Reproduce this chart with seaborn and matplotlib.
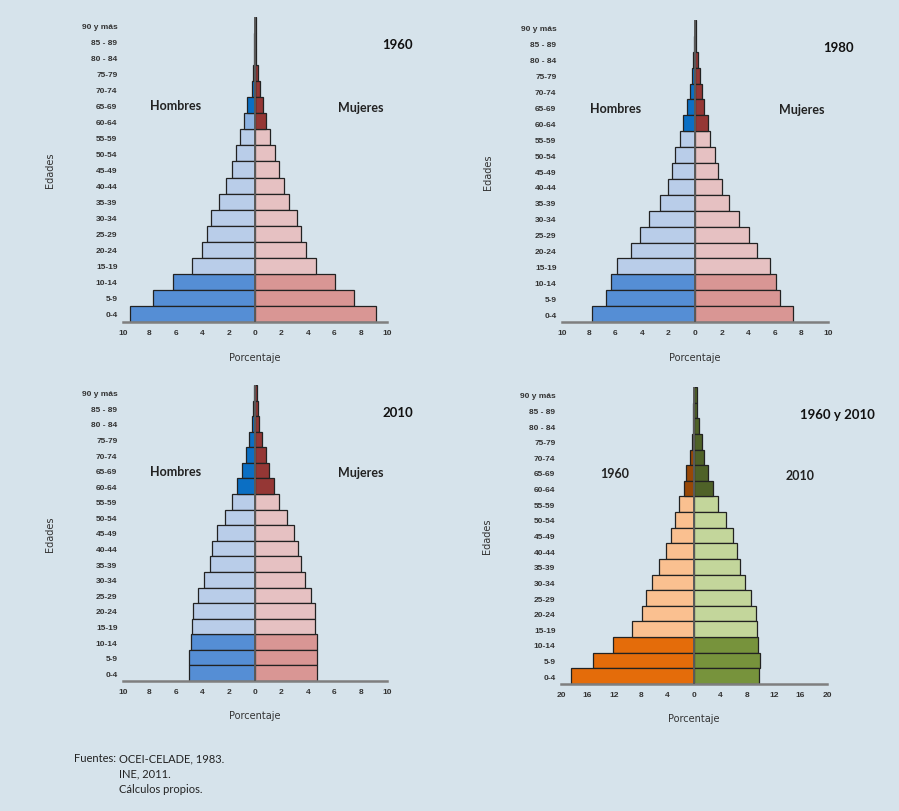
import pandas as pd
import matplotlib.pyplot as plt
import seaborn as sns

# Grupos de edad, de abajo hacia arriba
edades = ['0-4', '5-9', '10-14', '15-19', '20-24', '25-29', '30-34', '35-39',
          '40-44', '45-49', '50-54', '55-59', '60-64', '65-69', '70-74',
          '75-79', '80 - 84', '85 - 89', '90 y más']

# Porcentajes
hombres_1960 = [9.44, 7.72, 6.20, 4.78, 4.05, 3.67, 3.34, 2.73, 2.18, 1.77,
                1.47, 1.16, 0.81, 0.61, 0.25, 0.15, 0.08, 0.04, 0.03]
mujeres_1960 = [9.14, 7.49, 6.05, 4.61, 3.85, 3.52, 3.16, 2.61, 2.20, 1.80,
                1.52, 1.16, 0.84, 0.63, 0.35, 0.23, 0.10, 0.06, 0.04]
hombres_1980 = [7.75, 6.67, 6.30, 5.85, 4.82, 4.14, 3.46, 2.66, 2.01, 1.76,
                1.48, 1.15, 0.88, 0.60, 0.40, 0.20, 0.12, 0.05, 0.03]
mujeres_1980 = [7.40, 6.40, 6.12, 5.65, 4.69, 4.07, 3.34, 2.58, 2.06, 1.76,
                1.53, 1.15, 0.95, 0.70, 0.55, 0.35, 0.20, 0.08, 0.05]
hombres_2010 = [4.99, 4.99, 4.86, 4.76, 4.66, 4.30, 3.85, 3.39, 3.22, 2.86,
                2.30, 1.77, 1.34, 1.01, 0.66, 0.46, 0.25, 0.15, 0.10]
mujeres_2010 = [4.73, 4.73, 4.66, 4.53, 4.53, 4.25, 3.77, 3.47, 3.29, 2.94,
                2.41, 1.85, 1.42, 1.09, 0.81, 0.53, 0.33, 0.20, 0.13]
total_1960 = [18.49, 15.18, 12.21, 9.35, 7.89, 7.19, 6.38, 5.23, 4.27, 3.52,
              2.91, 2.26, 1.56, 1.16, 0.65, 0.25, 0.15, 0.08, 0.06]
total_2010 = [9.75, 9.85, 9.55, 9.40, 9.25, 8.60, 7.64, 6.98, 6.53, 5.93,
              4.77, 3.67, 2.86, 2.11, 1.56, 1.16, 0.70, 0.50, 0.45]

fuentes = ['OCEI-CELADE, 1983.', 'INE, 2011.', 'Cálculos propios.']

fondo = '#d6e3eb'
paletas = {
    'azul': ['#558ed5', '#b9cde9', '#0b6fc4', '#8db3e2'],
    'rojo': ['#d99694', '#e6c1c2', '#953735'],
    'naranja': ['#e46c0a', '#fac090', '#984807'],
    'verde': ['#77933c', '#c3d69b', '#4f6228'],
}
narrow = ['Liberation Sans Narrow', 'Liberation Sans']


def tono(i, color, especial=False):
    if i < 3:
        return f'{color}0'
    if i < 12:
        return f'{color}1'
    if i == 12 and especial:
        return f'{color}3'
    return f'{color}2'


def piramide(ax, izq, der, c_izq, c_der, lim, ticks, titulo, et_izq, et_der,
             especial=False):
    filas = []
    for i, e in enumerate(edades):
        filas.append({'edad': e, 'valor': -izq[i], 'tono': tono(i, c_izq, especial)})
        filas.append({'edad': e, 'valor': der[i], 'tono': tono(i, c_der)})
    df = pd.DataFrame(filas)
    pal = {}
    for c in (c_izq, c_der):
        for k, col in enumerate(paletas[c]):
            pal[f'{c}{k}'] = col
    sns.barplot(data=df, x='valor', y='edad', hue='tono', palette=pal,
                order=edades[::-1], dodge=False, width=1.0, orient='h',
                saturation=1, edgecolor='#222222', linewidth=0.9,
                legend=False, ax=ax)
    ax.axvline(0, color='#5a5a5a', lw=1.4, zorder=3)
    ax.set_facecolor(fondo)
    ax.set_xlim(-lim, lim)
    ax.set_ylim(18.5, -0.5)
    ax.set_xticks(ticks)
    ax.set_xticklabels([f'{abs(t):g}' for t in ticks], fontsize=6,
                       fontweight='bold', color='#333333', family=narrow)
    ax.tick_params(axis='x', length=3, width=1, color='#7f7f7f', pad=2)
    ax.tick_params(axis='y', length=0, pad=4, labelsize=6, labelcolor='#333333')
    for lab in ax.get_yticklabels():
        lab.set_fontweight('bold')
        lab.set_family(narrow)
    for s in ('left', 'top', 'right'):
        ax.spines[s].set_visible(False)
    ax.spines['bottom'].set_color('#7f7f7f')
    ax.spines['bottom'].set_linewidth(1.8)
    ax.set_xlabel('Porcentaje', fontsize=7, color='#333333')
    ax.set_ylabel('Edades', fontsize=7, color='#333333')
    ax.xaxis.set_label_coords(0.5, -0.098)
    ax.yaxis.set_label_coords(-0.258, 0.5)
    ax.text(1.04, 0.91, titulo, transform=ax.transAxes, ha='center', va='center',
            fontsize=9.5, fontweight='bold', family='Lato', color='#111111')
    ax.text(0.2, 0.71, et_izq, transform=ax.transAxes, ha='center', va='center',
            fontsize=9, fontweight='bold', family='Lato', color='#222222')
    ax.text(0.9, 0.705, et_der, transform=ax.transAxes, ha='center', va='center',
            fontsize=9, fontweight='bold', family='Lato', color='#222222')


sns.set_style('white')
fig = plt.figure(figsize=(8.99, 8.12), dpi=100, facecolor=fondo)
W, H = 899, 812


def caja(x0, x1, y_top, y_bot):
    return [x0 / W, 1 - y_bot / H, (x1 - x0) / W, (y_bot - y_top) / H]


ax1 = fig.add_axes(caja(123, 387, 18, 323))
ax2 = fig.add_axes(caja(562, 828, 21, 323))
ax3 = fig.add_axes(caja(123, 387, 386, 682))
ax4 = fig.add_axes(caja(561, 827, 388, 685))

t10 = [-10, -8, -6, -4, -2, 0, 2, 4, 6, 8, 10]
t20 = [-20, -16, -12, -8, -4, 0, 4, 8, 12, 16, 20]
piramide(ax1, hombres_1960, mujeres_1960, 'azul', 'rojo', 10, t10, '1960',
         'Hombres', 'Mujeres', especial=True)
piramide(ax2, hombres_1980, mujeres_1980, 'azul', 'rojo', 10, t10, '1980',
         'Hombres', 'Mujeres')
piramide(ax3, hombres_2010, mujeres_2010, 'azul', 'rojo', 10, t10, '2010',
         'Hombres', 'Mujeres')
piramide(ax4, total_1960, total_2010, 'naranja', 'verde', 20, t20, '1960 y 2010',
         '1960', '2010')

fig.text(74 / W, 1 - 762 / H, 'Fuentes:', fontsize=8.0, family='Lato',
         color='#222222', va='baseline')
for k, linea in enumerate(fuentes):
    fig.text(119 / W, 1 - (762 + 15.5 * k) / H, linea, fontsize=8.0,
             family='Lato', color='#222222', va='baseline')

fig.savefig('out.png', dpi=100, facecolor=fondo)
